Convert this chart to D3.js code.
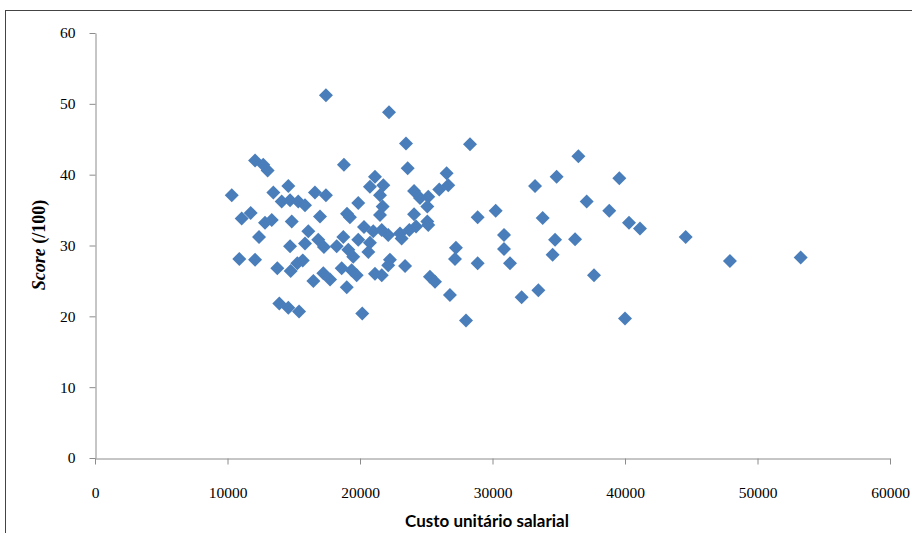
<!DOCTYPE html>
<html><head><meta charset="utf-8">
<script src="https://cdn.jsdelivr.net/npm/d3@7"></script>
<style>body{margin:0;background:#fff;}svg{display:block;}</style>
</head><body>
<svg id="chart" width="912" height="533"></svg>
<script>
const custo = [10320,11070,11750,10890,12080,12080,12700,13030,12380,12830,13340,13460,13760,13910,14090,14590,14720,14850,14720,14770,14590,15340,15270,15680,15400,15850,15850,16100,16480,16600,16850,16980,17280,17230,17430,17430,17740,18240,18620,18740,18790,19020,19240,19000,19120,19370,19490,19750,19870,19870,20170,20300,20630,20750,20750,21000,21130,21130,21510,21510,21640,21640,21710,21760,22130,22260,22130,22190,23020,23140,23400,23470,23600,23720,24080,24080,24230,24530,25150,25080,25080,25150,25280,25660,25980,26540,26660,26790,27240,27170,28000,28300,28880,28880,30240,30870,30870,31320,32200,33210,33460,33790,34540,34720,34840,36230,36480,37110,37660,38810,39570,40000,40300,41130,44580,47920,53260];
const score = [37.1,33.8,34.6,28.1,28.0,42.0,41.4,40.6,31.2,33.2,33.6,37.5,26.8,21.8,36.2,38.4,36.4,33.4,29.9,26.4,21.2,36.2,27.5,27.9,20.7,35.7,30.3,32.0,25.0,37.5,30.8,34.1,29.8,26.1,37.1,51.2,25.2,29.9,26.8,31.2,41.4,34.5,34.0,24.1,29.4,26.5,28.4,25.8,36.0,30.8,20.4,32.6,29.1,30.4,38.3,32.0,39.7,26.0,37.1,34.3,32.2,25.8,35.5,38.5,31.5,28.0,27.2,48.8,31.7,31.0,27.1,44.4,40.9,32.2,37.7,34.4,32.7,36.7,36.9,35.5,33.4,32.9,25.6,24.9,37.9,40.2,38.5,23.0,29.7,28.1,19.4,44.3,34.0,27.5,34.9,31.5,29.5,27.5,22.7,38.4,23.7,33.9,28.7,30.8,39.7,30.9,42.6,36.2,25.8,34.9,39.5,19.7,33.2,32.4,31.2,27.8,28.3];
const xTicks = [0,10000,20000,30000,40000,50000,60000];
const yTicks = [0,10,20,30,40,50,60];
const xTitle = "Custo unitário salarial";

const svg = d3.select("#chart");
// outer frame
svg.append("rect").attr("x",5.5).attr("y",10.5).attr("width",930).attr("height",540)
  .attr("fill","none").attr("stroke","#444").attr("stroke-width",1);

const x = d3.scaleLinear().domain([0,60000]).range([95,890]);
const y = d3.scaleLinear().domain([0,60]).range([458,33]);
const axisColor = "#8c8c8c";

const xa = svg.append("g").attr("transform","translate(0,458.5)")
  .call(d3.axisBottom(x).tickValues(xTicks).tickFormat(d3.format("d")).tickSizeInner(6).tickSizeOuter(0).tickPadding(22));
const ya = svg.append("g").attr("transform","translate(95.5,0)")
  .call(d3.axisLeft(y).tickValues(yTicks).tickSizeInner(6).tickSizeOuter(0).tickPadding(14));
[xa,ya].forEach(g=>{
  g.select(".domain").attr("stroke",axisColor);
  g.selectAll(".tick line").attr("stroke",axisColor);
  g.selectAll(".tick text").attr("fill","#000").style("font-family","'Liberation Serif','DejaVu Serif',serif").style("font-size","15.5px");
});

const pts = custo.map((c,i)=>({c, s:score[i]}));
const r = 7;
svg.append("g").selectAll("path").data(pts).join("path")
  .attr("d", d=>{const cx=x(d.c), cy=y(d.s); return `M${cx},${cy-r}L${cx+r},${cy}L${cx},${cy+r}L${cx-r},${cy}Z`;})
  .attr("fill","#4a7ebb");

svg.append("text").attr("x",487).attr("y",527).attr("text-anchor","middle")
  .style("font-family","Lato,'Open Sans',sans-serif").style("font-weight","bold").style("font-size","17px")
  .text(xTitle);

const yt = svg.append("text").attr("transform","translate(45,245) rotate(-90)").attr("text-anchor","middle")
  .style("font-family","'Liberation Serif','DejaVu Serif',serif").style("font-weight","bold").style("font-size","18px");
yt.append("tspan").style("font-style","italic").text("Score");
yt.append("tspan").text(" (/100)");
</script>
</body></html>
